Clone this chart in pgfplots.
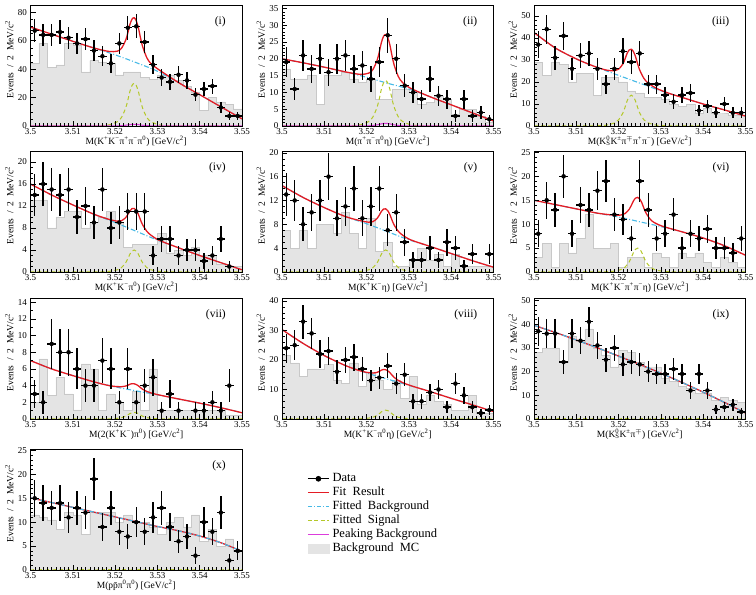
\documentclass[border=0pt]{standalone}
\usepackage{fontspec}
\setmainfont{Liberation Serif}
\usepackage{pgfplots}
\pgfplotsset{compat=1.18}
\definecolor{fitred}{RGB}{228,28,36}
\definecolor{bgcyan}{RGB}{70,185,230}
\definecolor{sigyel}{RGB}{180,200,40}
\definecolor{pkmag}{RGB}{220,60,220}
\definecolor{histfill}{RGB}{228,228,228}
\definecolor{histedge}{RGB}{200,200,200}
\newcommand\sps[1]{\textsuperscript{#1}}
\newcommand\KS{K\rlap{\sps{0}}\textsubscript{S}}
\pgfplotsset{
  hp/.style={scale only axis, width=211.5pt, height=121pt, anchor=south west,
    xmin=3.5, xmax=3.55, ymin=0,
    xtick={3.5,3.51,3.52,3.53,3.54,3.55},
    xticklabels={3.5,3.51,3.52,3.53,3.54,3.55},
    minor x tick num=9, minor y tick num=4,
    tick align=inside, tick pos=left,
    major tick length=5pt, minor tick length=2.5pt,
    tick style={black, line width=0.4pt},
    axis line style={line width=0.6pt},
    /pgf/number format/assume math mode=true,
    tick label style={font=\fontsize{9}{10}\selectfont},
    xticklabel style={yshift=1pt},
    label style={font=\fontsize{9.5}{10}\selectfont},
    ylabel={Events\ \ /\ \ 2\ \ MeV/c\textsuperscript{2}},
    ylabel style={at={(axis description cs:-0.1,0.55)}, anchor=center},
    xlabel style={at={(axis description cs:0.5,-0.125)}, anchor=center},
    axis on top,
  },
  hist/.style={const plot, fill=histfill, draw=histedge, line width=0.4pt},
  fitl/.style={fitred, line width=1.3pt, smooth},
  bgl/.style={bgcyan, line width=1.1pt, dash pattern=on 5pt off 2pt on 1pt off 2pt, smooth},
  sigl/.style={sigyel, line width=1pt, dash pattern=on 4pt off 3pt, smooth},
  pkl/.style={pkmag, line width=1pt, smooth},
  datal/.style={black, only marks, mark=*, mark size=2pt,
    error bars/x dir=both, error bars/x fixed=0.001, error bars/y dir=both, error bars/y explicit,
    error bars/error mark=none, error bars/error bar style={line width=1.4pt, black}},
  leglen/.style={legend image code/.code={\draw[mark repeat=2,mark phase=2] plot coordinates {(0pt,0pt)(10.5pt,0pt)(21pt,0pt)};}},
}
\newcommand\plabel[1]{\node[anchor=north east, font=\fontsize{11.5}{12}\selectfont] at (rel axis cs:0.94,0.93) {#1};}
\begin{document}
\begin{tikzpicture}
\path[use as bounding box] (0,0) rectangle (756pt,595pt);
% (i)
\begin{axis}[hp, at={(30.5pt,469pt)}, ymax=85, ytick={0,20,40,60,80}, minor y tick num=3,
  xlabel={M(K\sps{+}K\sps{−}π\sps{+}π\sps{−}π\sps{0}) [GeV/c\sps{2}]}]
\addplot[hist] coordinates {(3.500,44)(3.502,58)(3.504,41)(3.506,43)(3.508,58)(3.510,57)(3.512,38)(3.514,46)(3.516,45)(3.518,44)(3.520,36)(3.522,38)(3.524,38)(3.526,34)(3.528,33)(3.530,36)(3.532,36)(3.534,32)(3.536,28)(3.538,24)(3.540,11)(3.542,20)(3.544,17)(3.546,15)(3.548,12)(3.550,12)} \closedcycle;
\addplot[bgl] coordinates {(3.500,69.5)(3.505,64.5)(3.510,59.5)(3.515,54.8)(3.520,50)(3.525,44.5)(3.530,38.5)(3.535,30.5)(3.540,22)(3.545,13.5)(3.550,5)};
\addplot[sigl] coordinates {(3.500,0)(3.5145,0.12)(3.5165,0.24)(3.5185,0.75)(3.5205,3)(3.5215,6)(3.5225,12.6)(3.523,18)(3.5235,24.3)(3.524,28.5)(3.5245,30)(3.525,28.5)(3.5255,24.3)(3.526,18)(3.5265,12.6)(3.5275,6)(3.5285,3)(3.5305,0.75)(3.5325,0.24)(3.5345,0.12)(3.550,0)};
\addplot[pkl] coordinates {(3.500,0)(3.5165,0.01)(3.5185,0.03)(3.5205,0.12)(3.5215,0.24)(3.5225,0.5)(3.523,0.72)(3.5235,0.97)(3.524,1.14)(3.5245,1.2)(3.525,1.14)(3.5255,0.97)(3.526,0.72)(3.5265,0.5)(3.5275,0.24)(3.5285,0.12)(3.5305,0.03)(3.5325,0.01)(3.550,0)};
\addplot[fitl] coordinates {(3.500,69.5)(3.505,64.5)(3.510,59.5)(3.515,54.8)(3.5185,52.4)(3.5205,52.55)(3.5215,54.55)(3.5225,60.27)(3.523,65.3)(3.5235,71.26)(3.524,75.05)(3.5245,76.05)(3.525,73.95)(3.5255,69.06)(3.526,62.0)(3.5265,55.87)(3.5275,47.95)(3.5285,43.75)(3.5305,39.23)(3.535,30.5)(3.540,22)(3.545,13.5)(3.550,5)};
\addplot[datal] table[x=x,y=y,y error=e] {
x y e
3.501 67 8.19
3.503 64 8
3.505 64 8
3.507 66 8.12
3.509 62 7.87
3.511 58 7.62
3.513 61 7.81
3.515 53 7.28
3.517 49 7
3.519 44 6.63
3.521 58 7.62
3.523 69 8.31
3.525 70 8.37
3.527 59 7.68
3.529 43 6.56
3.531 34 5.83
3.533 31 5.57
3.535 36 6
3.537 32 5.66
3.539 22 4.69
3.541 26 5.1
3.543 28 5.29
3.545 13 3.61
3.547 7 2.65
3.549 7 2.65
};
\plabel{(i)}
\end{axis}
% (ii)
\begin{axis}[hp, at={(282pt,469pt)}, ymax=36, ytick={0,5,...,35},
  xlabel={M(π\sps{+}π\sps{−}π\sps{0}η) [GeV/c\sps{2}]}]
\addplot[hist] coordinates {(3.500,17)(3.502,14)(3.504,14)(3.506,15)(3.508,6.5)(3.510,15)(3.512,15)(3.514,16)(3.516,14)(3.518,13)(3.520,14)(3.522,8)(3.524,8)(3.526,11)(3.528,11)(3.530,10)(3.532,6.5)(3.534,7)(3.536,9)(3.538,8)(3.540,3.5)(3.542,5)(3.544,5)(3.546,3)(3.548,1)(3.550,1)} \closedcycle;
\addplot[bgl] coordinates {(3.500,20)(3.505,18.8)(3.510,17.5)(3.515,16.1)(3.520,14.5)(3.525,12.7)(3.530,11)(3.535,8.7)(3.540,6.3)(3.545,3.9)(3.550,1.5)};
\addplot[sigl] coordinates {(3.500,0)(3.5145,0.05)(3.5165,0.11)(3.5185,0.34)(3.5205,1.35)(3.5215,2.7)(3.5225,5.67)(3.523,8.1)(3.5235,10.94)(3.524,12.83)(3.5245,13.5)(3.525,12.83)(3.5255,10.94)(3.526,8.1)(3.5265,5.67)(3.5275,2.7)(3.5285,1.35)(3.5305,0.34)(3.5325,0.11)(3.5345,0.05)(3.550,0)};
\addplot[pkl] coordinates {(3.500,0)(3.5185,0.02)(3.5205,0.08)(3.5215,0.16)(3.5225,0.34)(3.523,0.48)(3.5235,0.65)(3.524,0.76)(3.5245,0.8)(3.525,0.76)(3.5255,0.65)(3.526,0.48)(3.5265,0.34)(3.5275,0.16)(3.5285,0.08)(3.5305,0.02)(3.550,0)};
\addplot[fitl] coordinates {(3.500,20)(3.505,18.8)(3.510,17.5)(3.515,16.1)(3.5185,15.36)(3.5205,15.73)(3.5215,16.81)(3.5225,19.61)(3.523,22.01)(3.5235,24.84)(3.524,26.67)(3.5245,27.2)(3.525,26.32)(3.5255,24.14)(3.526,20.96)(3.5265,18.21)(3.5275,14.71)(3.5285,12.93)(3.5305,11.16)(3.535,8.7)(3.540,6.3)(3.545,3.9)(3.550,1.5)};
\addplot[datal] table[x=x,y=y,y error=e] {
x y e
3.501 19 4.36
3.503 11 3.32
3.505 21 4.58
3.507 17 4.12
3.509 20 4.47
3.511 16 4
3.513 20 4.47
3.515 21 4.58
3.517 17 4.12
3.519 18 4.24
3.521 14 3.74
3.523 19 4.36
3.525 27 5.2
3.527 20 4.47
3.529 12 3.46
3.531 10 3.16
3.533 8 2.83
3.535 14 3.74
3.537 9 3
3.539 8 2.83
3.541 3 1.73
3.543 8 2.83
3.545 3 1.73
3.547 4 2
3.549 2 1.41
};
\plabel{(ii)}
\end{axis}
% (iii)
\begin{axis}[hp, at={(534pt,469pt)}, ymax=55, ytick={0,10,...,50},
  xlabel={M(\KS K\sps{±}π\sps{$\mp$}π\sps{+}π\sps{−}) [GeV/c\sps{2}]}]
\addplot[hist] coordinates {(3.500,29)(3.502,23)(3.504,29)(3.506,28)(3.508,20)(3.510,24)(3.512,24)(3.514,14)(3.516,22)(3.518,22)(3.520,20)(3.522,16)(3.524,15)(3.526,13)(3.528,13)(3.530,12)(3.532,10)(3.534,9)(3.536,10)(3.538,6)(3.540,8)(3.542,6)(3.544,6)(3.546,5)(3.548,5)(3.550,5)} \closedcycle;
\addplot[bgl] coordinates {(3.500,42.5)(3.505,35.5)(3.510,30.5)(3.515,26.6)(3.520,23)(3.525,19.5)(3.530,16)(3.535,13)(3.540,10)(3.545,7.3)(3.550,4.5)};
\addplot[sigl] coordinates {(3.500,0)(3.513,0.06)(3.515,0.11)(3.517,0.35)(3.519,1.4)(3.520,2.8)(3.521,5.88)(3.5215,8.4)(3.522,11.34)(3.5225,13.3)(3.523,14)(3.5235,13.3)(3.524,11.34)(3.5245,8.4)(3.525,5.88)(3.526,2.8)(3.527,1.4)(3.529,0.35)(3.531,0.11)(3.533,0.06)(3.550,0)};
\addplot[fitl] coordinates {(3.500,42.5)(3.505,35.5)(3.510,30.5)(3.514,27.3)(3.517,25.45)(3.519,25.1)(3.520,25.8)(3.521,28.18)(3.5215,30.35)(3.522,32.94)(3.5225,34.55)(3.523,34.9)(3.5235,33.85)(3.524,31.54)(3.5245,28.25)(3.525,25.38)(3.526,21.6)(3.527,19.5)(3.529,17.05)(3.532,14.8)(3.535,13)(3.540,10)(3.545,7.3)(3.550,4.5)};
\addplot[datal] table[x=x,y=y,y error=e] {
x y e
3.501 37 6.08
3.503 44 6.63
3.505 31 5.57
3.507 41 6.4
3.509 26 5.1
3.511 32 5.66
3.513 33 5.74
3.515 26 5.1
3.517 19 4.36
3.519 26 5.1
3.521 34 5.83
3.523 29 5.39
3.525 33 5.74
3.527 19 4.36
3.529 19 4.36
3.531 14 3.74
3.533 11 3.32
3.535 14 3.74
3.537 15 3.87
3.539 7 2.65
3.541 9 3
3.543 6 2.45
3.545 10 3.16
3.547 6 2.45
3.549 6 2.45
};
\plabel{(iii)}
\end{axis}
% (iv)
\begin{axis}[hp, at={(30.5pt,323pt)}, ymax=22, ytick={0,4,...,20}, minor y tick num=3,
  xlabel={M(K\sps{+}K\sps{−}π\sps{0}) [GeV/c\sps{2}]}]
\addplot[hist] coordinates {(3.500,13)(3.502,13)(3.504,8)(3.506,10)(3.508,11)(3.510,11)(3.512,8)(3.514,9)(3.516,10)(3.518,11)(3.520,9)(3.522,4.5)(3.524,5)(3.526,5)(3.528,5)(3.530,7)(3.532,3.5)(3.534,4)(3.536,3)(3.538,4.5)(3.540,3)(3.542,3)(3.544,1.5)(3.546,1)(3.548,1)(3.550,1)} \closedcycle;
\addplot[bgl] coordinates {(3.500,16)(3.505,14)(3.510,12.2)(3.515,10.5)(3.520,9.0)(3.525,7.4)(3.530,5.8)(3.535,4.4)(3.540,3.0)(3.545,1.7)(3.550,0.4)};
\addplot[sigl] coordinates {(3.500,0)(3.5145,0.02)(3.5165,0.03)(3.5185,0.1)(3.5205,0.4)(3.5215,0.8)(3.5225,1.68)(3.523,2.4)(3.5235,3.24)(3.524,3.8)(3.5245,4)(3.525,3.8)(3.5255,3.24)(3.526,2.4)(3.5265,1.68)(3.5275,0.8)(3.5285,0.4)(3.5305,0.1)(3.5325,0.03)(3.5345,0.02)(3.550,0)};
\addplot[fitl] coordinates {(3.500,16)(3.505,14)(3.510,12.2)(3.515,10.5)(3.5185,9.58)(3.5205,9.24)(3.5215,9.32)(3.5225,9.88)(3.523,10.44)(3.5235,11.12)(3.524,11.52)(3.5245,11.56)(3.525,11.2)(3.5255,10.48)(3.526,9.48)(3.5265,8.6)(3.5275,7.4)(3.5285,6.68)(3.5305,5.74)(3.535,4.4)(3.540,3.0)(3.545,1.7)(3.550,0.4)};
\addplot[datal] table[x=x,y=y,y error=e] {
x y e
3.501 14 3.74
3.503 16 4
3.505 15 3.87
3.507 14 3.74
3.509 15 3.87
3.511 10 3.16
3.513 12 3.46
3.515 9 3
3.517 15 3.87
3.519 8 2.83
3.521 9 3
3.523 11 3.32
3.525 11 3.32
3.527 11 3.32
3.529 3 1.73
3.531 6 2.45
3.533 6 2.45
3.535 3 1.73
3.537 4 2
3.539 4 2
3.541 2 1.41
3.543 3 1.73
3.545 6 2.45
3.547 1 1
};
\plabel{(iv)}
\end{axis}
% (v)
\begin{axis}[hp, at={(282pt,323pt)}, ymax=20.3, ytick={0,4,...,20}, minor y tick num=3,
  xlabel={M(K\sps{+}K\sps{−}η) [GeV/c\sps{2}]}]
\addplot[hist] coordinates {(3.500,7)(3.502,4)(3.504,7)(3.506,4)(3.508,8)(3.510,8)(3.512,6.5)(3.514,10)(3.516,6.5)(3.518,4)(3.520,9)(3.522,3.5)(3.524,5)(3.526,1)(3.528,1)(3.530,2)(3.532,4)(3.534,2)(3.536,3)(3.538,1)(3.540,3)(3.542,1)(3.544,1)(3.546,1)(3.548,1)(3.550,1)} \closedcycle;
\addplot[bgl] coordinates {(3.500,14.5)(3.505,12.5)(3.510,10.8)(3.515,9.3)(3.520,8.1)(3.525,6.75)(3.530,5.4)(3.535,4.3)(3.540,3.1)(3.545,1.9)(3.550,0.8)};
\addplot[sigl] coordinates {(3.500,0)(3.5145,0.015)(3.5165,0.03)(3.5185,0.09)(3.5205,0.37)(3.5215,0.74)(3.5225,1.55)(3.523,2.22)(3.5235,3.0)(3.524,3.52)(3.5245,3.7)(3.525,3.52)(3.5255,3.0)(3.526,2.22)(3.5265,1.55)(3.5275,0.74)(3.5285,0.37)(3.5305,0.09)(3.5325,0.03)(3.5345,0.015)(3.550,0)};
\addplot[fitl] coordinates {(3.500,14.5)(3.505,12.5)(3.510,10.8)(3.515,9.3)(3.5185,8.61)(3.5205,8.35)(3.5215,8.45)(3.5225,8.99)(3.523,9.53)(3.5235,10.17)(3.524,10.56)(3.5245,10.6)(3.525,10.29)(3.5255,9.63)(3.526,8.72)(3.5265,7.91)(3.5275,6.83)(3.5285,6.19)(3.5305,5.37)(3.535,4.3)(3.540,3.1)(3.545,1.9)(3.550,0.8)};
\addplot[datal] table[x=x,y=y,y error=e] {
x y e
3.501 13 3.61
3.503 12 3.46
3.505 8 2.83
3.507 10 3.16
3.509 12 3.46
3.511 16 4
3.513 9 3
3.515 11 3.32
3.517 14 3.74
3.519 9 3
3.521 11 3.32
3.523 14 3.74
3.525 7 2.65
3.527 10 3.16
3.529 5 2.24
3.531 2 1.41
3.533 2 1.41
3.535 4 2
3.537 2 1.41
3.539 5 2.24
3.541 4 2
3.543 1 1
3.545 3 1.73
3.549 3 1.73
};
\plabel{(v)}
\end{axis}
% (vi)
\begin{axis}[hp, at={(534pt,323pt)}, ymax=25.3, ytick={0,5,...,25},
  xlabel={M(K\sps{+}K\sps{−}π\sps{+}π\sps{−}η) [GeV/c\sps{2}]}]
\addplot[hist] coordinates {(3.500,3)(3.502,6)(3.504,1)(3.506,6)(3.508,4)(3.510,7)(3.512,12)(3.514,5)(3.516,5)(3.518,6)(3.520,1)(3.522,3)(3.524,3)(3.526,1)(3.528,4)(3.530,3)(3.532,1)(3.534,4)(3.536,3)(3.538,4)(3.540,2)(3.542,1)(3.544,3)(3.546,2)(3.548,1)(3.550,1)} \closedcycle;
\addplot[bgl] coordinates {(3.500,15)(3.505,14.1)(3.510,13.2)(3.515,12.3)(3.520,11.5)(3.525,10.5)(3.530,9.5)(3.535,8.4)(3.540,7.1)(3.545,5.5)(3.550,3.5)};
\addplot[sigl] coordinates {(3.500,0)(3.5145,0.02)(3.5165,0.04)(3.5185,0.125)(3.5205,0.5)(3.5215,1)(3.5225,2.1)(3.523,3)(3.5235,4.05)(3.524,4.75)(3.5245,5)(3.525,4.75)(3.5255,4.05)(3.526,3)(3.5265,2.1)(3.5275,1)(3.5285,0.5)(3.5305,0.125)(3.5325,0.04)(3.5345,0.02)(3.550,0)};
\addplot[fitl] coordinates {(3.500,15)(3.505,14.1)(3.510,13.2)(3.515,12.3)(3.5185,11.93)(3.5205,11.9)(3.5215,12.2)(3.5225,13.1)(3.523,13.9)(3.5235,14.85)(3.524,15.45)(3.5245,15.6)(3.525,15.25)(3.5255,14.45)(3.526,13.3)(3.5265,12.3)(3.5275,11.0)(3.5285,10.3)(3.5305,9.53)(3.535,8.4)(3.540,7.1)(3.545,5.5)(3.550,3.5)};
\addplot[datal] table[x=x,y=y,y error=e] {
x y e
3.501 8 2.83
3.503 15 3.87
3.505 13 3.61
3.507 20 4.47
3.509 8 2.83
3.511 14 3.74
3.513 13 3.61
3.515 17 4.12
3.517 19 4.36
3.519 12 3.46
3.521 11 3.32
3.523 7 2.65
3.525 19 4.36
3.527 13 3.61
3.529 7 2.65
3.531 8 2.83
3.533 12 3.46
3.535 5 2.24
3.537 8 2.83
3.539 7 2.65
3.541 9 3
3.543 5 2.24
3.545 5 2.24
3.547 4 2
3.549 7 2.65
};
\plabel{(vi)}
\end{axis}
% (vii)
\begin{axis}[hp, at={(30.5pt,176pt)}, ymax=14.5, ytick={0,2,...,14}, minor y tick num=1,
  xlabel={M(2(K\sps{+}K\sps{−})π\sps{0}) [GeV/c\sps{2}]}]
\addplot[hist] coordinates {(3.500,2)(3.502,7.2)(3.504,2.8)(3.506,5)(3.508,3)(3.510,1.1)(3.512,6.6)(3.514,6)(3.516,1)(3.518,3)(3.520,2)(3.522,1)(3.524,3.3)(3.526,1)(3.528,6)(3.530,1)(3.532,1)(3.534,1)(3.536,1)(3.538,1)(3.540,1)(3.542,1)(3.544,1)(3.546,0.5)(3.548,0.5)(3.550,0.5)} \closedcycle;
\addplot[bgl] coordinates {(3.500,7.0)(3.505,6.0)(3.510,5.2)(3.515,4.45)(3.520,3.85)(3.525,3.37)(3.530,2.9)(3.535,2.4)(3.540,1.9)(3.545,1.35)(3.550,0.75)};
\addplot[sigl] coordinates {(3.500,0)(3.5145,0.003)(3.5165,0.006)(3.5185,0.02)(3.5205,0.08)(3.5215,0.16)(3.5225,0.34)(3.523,0.48)(3.5235,0.65)(3.524,0.76)(3.5245,0.8)(3.525,0.76)(3.5255,0.65)(3.526,0.48)(3.5265,0.34)(3.5275,0.16)(3.5285,0.08)(3.5305,0.02)(3.5325,0.006)(3.5345,0.003)(3.550,0)};
\addplot[fitl] coordinates {(3.500,7.0)(3.505,6.0)(3.510,5.2)(3.515,4.45)(3.5185,4.01)(3.5205,3.88)(3.5215,3.87)(3.5225,3.95)(3.523,4.04)(3.5235,4.17)(3.524,4.23)(3.5245,4.22)(3.525,4.13)(3.5255,3.98)(3.526,3.76)(3.5265,3.57)(3.5275,3.3)(3.5285,3.12)(3.5305,2.87)(3.535,2.4)(3.540,1.9)(3.545,1.35)(3.550,0.75)};
\addplot[datal] table[x=x,y=y,y error=e] {
x y e
3.501 3 1.73
3.503 2 1.41
3.505 9 3
3.507 8 2.83
3.509 8 2.83
3.511 6 2.45
3.513 4 2
3.515 4 2
3.517 7 2.65
3.519 6 2.45
3.521 2 1.41
3.523 6 2.45
3.525 2 1.41
3.527 4 2
3.529 5 2.24
3.531 1 1
3.533 3 1.73
3.535 1 1
3.539 1 1
3.541 1 1
3.543 2 1.41
3.545 1 1
3.547 4 2
};
\plabel{(vii)}
\end{axis}
% (viii)
\begin{axis}[hp, at={(282pt,176pt)}, ymax=41, ytick={0,10,...,40},
  xlabel={M(K\sps{+}K\sps{−}π\sps{0}η) [GeV/c\sps{2}]}]
\addplot[hist] coordinates {(3.500,21.5)(3.502,19)(3.504,14.5)(3.506,17)(3.508,17)(3.510,18.5)(3.512,13)(3.514,12)(3.516,19)(3.518,11)(3.520,16)(3.522,13)(3.524,10)(3.526,13)(3.528,7)(3.530,14.5)(3.532,5)(3.534,8)(3.536,6)(3.538,5)(3.540,3)(3.542,3)(3.544,8)(3.546,2)(3.548,2)(3.550,2)} \closedcycle;
\addplot[bgl] coordinates {(3.500,30.3)(3.505,25.6)(3.510,21.5)(3.515,18.1)(3.520,15.6)(3.525,13.5)(3.530,11.4)(3.535,9.3)(3.540,7.0)(3.545,4.8)(3.550,2.5)};
\addplot[sigl] coordinates {(3.500,0)(3.5145,0.012)(3.5165,0.024)(3.5185,0.075)(3.5205,0.3)(3.5215,0.6)(3.5225,1.26)(3.523,1.8)(3.5235,2.43)(3.524,2.85)(3.5245,3)(3.525,2.85)(3.5255,2.43)(3.526,1.8)(3.5265,1.26)(3.5275,0.6)(3.5285,0.3)(3.5305,0.075)(3.5325,0.024)(3.5345,0.012)(3.550,0)};
\addplot[fitl] coordinates {(3.500,30.3)(3.505,25.6)(3.510,21.5)(3.515,18.1)(3.5185,16.31)(3.5205,15.69)(3.5215,15.57)(3.5225,15.81)(3.523,16.14)(3.5235,16.56)(3.524,16.77)(3.5245,16.71)(3.525,16.35)(3.5255,15.72)(3.526,14.88)(3.5265,14.13)(3.5275,13.05)(3.5285,12.33)(3.5305,11.27)(3.535,9.3)(3.540,7.0)(3.545,4.8)(3.550,2.5)};
\addplot[datal] table[x=x,y=y,y error=e] {
x y e
3.501 24 4.9
3.503 25 5
3.505 33 5.74
3.507 29 5.39
3.509 22 4.69
3.511 23 4.8
3.513 16 4
3.515 20 4.47
3.517 21 4.58
3.519 17 4.12
3.521 13 3.61
3.523 14 3.74
3.525 18 4.24
3.527 12 3.46
3.529 15 3.87
3.531 6 2.45
3.533 6 2.45
3.535 9 3
3.537 10 3.16
3.539 4 2
3.541 12 3.46
3.543 8 2.83
3.545 4 2
3.547 2 1.41
3.549 3 1.73
};
\plabel{(viii)}
\end{axis}
% (ix)
\begin{axis}[hp, at={(534pt,176pt)}, ymax=51, ytick={0,10,...,50},
  xlabel={M(\KS K\sps{±}π\sps{$\mp$}) [GeV/c\sps{2}]}]
\addplot[hist] coordinates {(3.500,28)(3.502,30)(3.504,30)(3.506,24)(3.508,35)(3.510,33)(3.512,38)(3.514,30)(3.516,27)(3.518,22)(3.520,29)(3.522,28)(3.524,24)(3.526,22)(3.528,22)(3.530,17)(3.532,16)(3.534,14)(3.536,13)(3.538,11)(3.540,11)(3.542,8)(3.544,9)(3.546,8)(3.548,7)(3.550,7)} \closedcycle;
\addplot[sigl] coordinates {(3.500,0)(3.550,0)};
\addplot[fitl] coordinates {(3.500,39.5)(3.505,36.5)(3.510,33.3)(3.515,30)(3.520,26.5)(3.525,23)(3.530,19.3)(3.535,15.4)(3.540,11.3)(3.545,7.0)(3.550,2.5)};
\addplot[bgl] coordinates {(3.500,39.5)(3.505,36.5)(3.510,33.3)(3.515,30)(3.520,26.5)(3.525,23)(3.530,19.3)(3.535,15.4)(3.540,11.3)(3.545,7.0)(3.550,2.5)};
\addplot[datal] table[x=x,y=y,y error=e] {
x y e
3.501 37 6.08
3.503 36 6
3.505 36 6
3.507 24 4.9
3.509 36 6
3.511 33 5.74
3.513 41 6.4
3.515 31 5.57
3.517 25 5
3.519 30 5.48
3.521 23 4.8
3.523 24 4.9
3.525 23 4.8
3.527 20 4.47
3.529 19 4.36
3.531 19 4.36
3.533 21 4.58
3.535 19 4.36
3.537 12 3.46
3.539 19 4.36
3.541 12 3.46
3.543 4 2
3.545 5 2.24
3.547 6 2.45
3.549 3 1.73
};
\plabel{(ix)}
\end{axis}
% (x)
\begin{axis}[hp, at={(30.5pt,25pt)}, ymax=25.3, ytick={0,5,...,25},
  xlabel={M(p\=pπ\sps{0}π\sps{0}) [GeV/c\sps{2}]},
  legend style={at={(axis description cs:1.308,0.805)}, anchor=north west, draw=none, fill=none,
    row sep=2pt, inner sep=0pt, column sep=3pt,
    nodes={inner sep=0pt, text height=9pt, text depth=3pt, font=\fontsize{12.5}{13}\selectfont}},
  legend cell align=left]
\addlegendimage{leglen, black, line width=1.2pt, mark=*, mark size=2.2pt}
\addlegendentry{Data}
\addlegendimage{leglen, fitred, line width=1pt}
\addlegendentry{Fit\ \ Result}
\addlegendimage{leglen, bgcyan, line width=1pt, dash pattern=on 4pt off 2pt on 1pt off 2pt}
\addlegendentry{Fitted\ \ Background}
\addlegendimage{leglen, sigyel, line width=1pt, dash pattern=on 4pt off 2.5pt}
\addlegendentry{Fitted\ \ Signal}
\addlegendimage{leglen, pkmag, line width=1pt}
\addlegendentry{Peaking Background}
\addlegendimage{legend image code/.code={\fill[histfill] (0pt,-4.5pt) rectangle (21pt,4.5pt);}}
\addlegendentry{Background\ \ MC}
\addplot[forget plot, hist] coordinates {(3.500,11.5)(3.502,11)(3.504,10.5)(3.506,8.5)(3.508,12)(3.510,11.5)(3.512,7.5)(3.514,12)(3.516,12)(3.518,12)(3.520,10)(3.522,11.5)(3.524,10)(3.526,10)(3.528,9)(3.530,7.5)(3.532,10)(3.534,11)(3.536,9)(3.538,11.5)(3.540,6)(3.542,8.5)(3.544,5)(3.546,6.5)(3.548,4)(3.550,4)} \closedcycle;
\addplot[forget plot, sigl] coordinates {(3.500,0)(3.550,0)};
\addplot[forget plot, fitl] coordinates {(3.500,15.1)(3.505,14.1)(3.510,13.1)(3.515,12.1)(3.520,11.1)(3.525,10.1)(3.530,9.1)(3.535,8.2)(3.540,7.1)(3.545,5.7)(3.550,3.9)};
\addplot[forget plot, bgl] coordinates {(3.500,15.1)(3.505,14.1)(3.510,13.1)(3.515,12.1)(3.520,11.1)(3.525,10.1)(3.530,9.1)(3.535,8.2)(3.540,7.1)(3.545,5.7)(3.550,3.9)};
\addplot[forget plot, datal] table[x=x,y=y,y error=e] {
x y e
3.501 15 3.87
3.503 14 3.74
3.505 13 3.61
3.507 14 3.74
3.509 11 3.32
3.511 13 3.61
3.513 12 3.46
3.515 19 4.36
3.517 9 3
3.519 13 3.61
3.521 8 2.83
3.523 7 2.65
3.525 10 3.16
3.527 8 2.83
3.529 11 3.32
3.531 13 3.61
3.533 9 3
3.535 6 2.45
3.537 7 2.65
3.539 3 1.73
3.541 10 3.16
3.543 8 2.83
3.545 12 3.46
3.547 2 1.41
3.549 4 2
};
\plabel{(x)}
\end{axis}
\end{tikzpicture}
\end{document}
